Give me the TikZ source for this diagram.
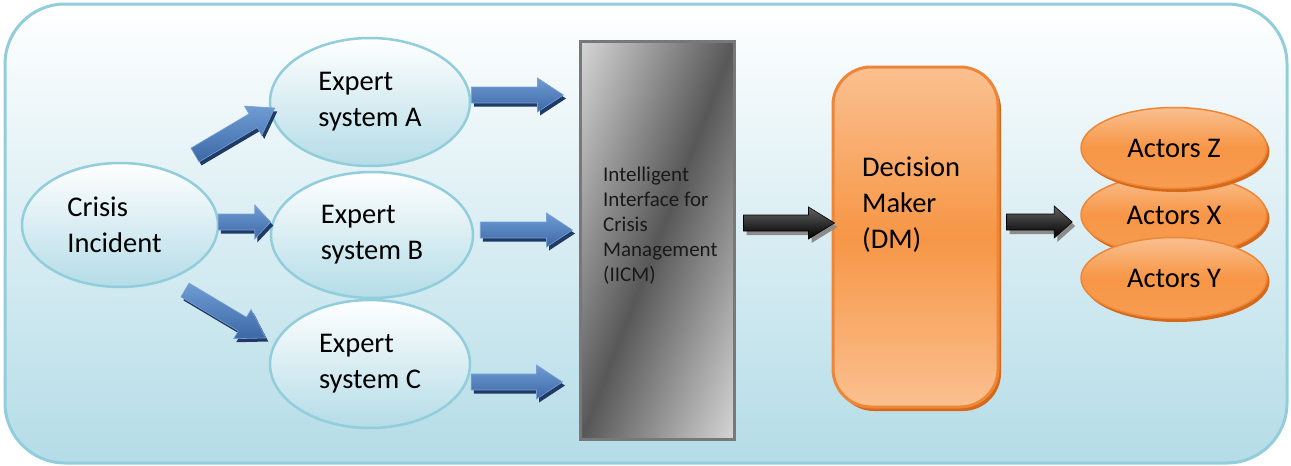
\documentclass[tikz,border=0pt]{standalone}
\usepackage{fontspec}
\setmainfont{Carlito}
\usetikzlibrary{calc,shapes.geometric,shadows}
\definecolor{frameblue}{RGB}{146,205,220}
\definecolor{bgblue}{RGB}{180,220,231}
\definecolor{ellblue}{RGB}{180,220,231}
\definecolor{arrowtop}{RGB}{112,156,212}
\definecolor{arrowbot}{RGB}{60,104,166}
\definecolor{arrowline}{RGB}{120,160,212}
\definecolor{arrowshadow}{RGB}{32,58,102}
\definecolor{orangemid}{RGB}{247,150,70}
\definecolor{orangelight}{RGB}{250,192,144}
\definecolor{orangeline}{RGB}{238,134,56}
\definecolor{orangeshadow}{RGB}{214,104,26}
\definecolor{grayline}{RGB}{120,120,120}
\definecolor{iicmlight}{RGB}{212,212,212}
\definecolor{iicmdark}{RGB}{88,88,88}
\pgfdeclareverticalshading{iicmshade}{100bp}{color(0bp)=(iicmlight); color(25bp)=(iicmlight);
  color(50bp)=(iicmdark); color(75bp)=(iicmlight); color(100bp)=(iicmlight)}
\newcommand\txtbig{\fontsize{28.5}{36}\selectfont}
\newcommand\txtsmall{\fontsize{21}{25}\selectfont}
% block arrow path: #1 style, #2 from, #3 to, #4 body half width, #5 head half width, #6 head length
\newcommand\barrowpath[6]{%
  \path[#1] let \p1=#2, \p2=#3, \n1={atan2(\y2-\y1,\x2-\x1)}, \n2={veclen(\x2-\x1,\y2-\y1)} in
    ($(\p1)+({\n1+90}:#4)$) -- ($(\p1)+(\n1:{\n2-#6})+({\n1+90}:#4)$)
    -- ($(\p1)+(\n1:{\n2-#6})+({\n1+90}:#5)$) -- (\p2)
    -- ($(\p1)+(\n1:{\n2-#6})+({\n1-90}:#5)$) -- ($(\p1)+(\n1:{\n2-#6})+({\n1-90}:#4)$)
    -- ($(\p1)+({\n1-90}:#4)$) -- cycle;}
\newcommand\bluearrow[3]{%
  \barrowpath{fill=arrowshadow, transform canvas={shift={(2.5,-3.5)}}}{#1}{#2}{8}{17}{#3}%
  \barrowpath{top color=arrowtop, bottom color=arrowbot, draw=arrowline, line width=0.6}{#1}{#2}{8}{17}{#3}}
\newcommand\blackarrow[3]{%
  \barrowpath{fill=black!45, transform canvas={shift={(3,-4)}}}{#1}{#2}{8}{16}{#3}%
  \barrowpath{top color=black!62, bottom color=black, draw=black, line width=0.6}{#1}{#2}{8}{16}{#3}}
\tikzset{
  expert/.style={ellipse, draw=frameblue, line width=2.5, top color=white, bottom color=ellblue,
    inner sep=0, align=left, font=\txtbig},
  actor/.style={ellipse, draw=orangeline, line width=1.5, top color=orangelight,
    bottom color=orangemid!85!orangelight, middle color=orangemid, inner sep=0, font=\txtbig,
    minimum width=186, minimum height=81,
    drop shadow={shadow xshift=2.5pt, shadow yshift=-3.5pt, fill=orangeshadow, opacity=1}},
}
\begin{document}
\begin{tikzpicture}[x=1pt,y=1pt]
\useasboundingbox (0,0) rectangle (1291,-466);
% background frame
\draw[frameblue, line width=3, rounded corners=60, top color=white, bottom color=bgblue]
  (5,-4) rectangle (1287,-463);
% left ellipses
\node[expert, minimum width=200, minimum height=128] (ea) at (370,-102) {Expert\\system A};
\node[expert, minimum width=202, minimum height=126] (eb) at (372,-235) {Expert\\system B};
\node[expert, minimum width=200, minimum height=128] (ec) at (370,-364) {Expert\\system C};
\node[expert, minimum width=196, minimum height=124] (crisis) at (120,-225) {Crisis\\Incident\hspace*{11pt}};
% IICM
\node[fill=iicmlight, line width=3, minimum width=151, minimum height=395, inner sep=0,
  drop shadow={shadow xshift=3pt, shadow yshift=-3pt, fill=black!30, opacity=1}]
  (iicm) at (657.5,-240.5) {};
\begin{scope}
  \clip (iicm.south west) rectangle (iicm.north east);
  \shade[shading=iicmshade, transform canvas={rotate around={69:(iicm.center)}}]
    ($(iicm.center)+(-260,-141)$) rectangle ($(iicm.center)+(260,141)$);
\end{scope}
\draw[grayline, line width=3] (iicm.south west) rectangle (iicm.north east);
\node[anchor=north west, inner sep=0, align=left, font=\txtsmall, text=black!90]
  (iicmtext) at (603,-167) {Intelligent\\Interface for\\Crisis\\Management\\(IICM)};
% Decision maker
\node[draw=orangeline, line width=3, rounded corners=38, minimum width=165, minimum height=340,
  inner sep=0, top color=orangelight, bottom color=orangelight, middle color=orangemid,
  drop shadow={shadow xshift=3pt, shadow yshift=-4pt, fill=orangeshadow, opacity=1}]
  (dm) at (915.5,-237) {};
\node[anchor=north west, inner sep=0, align=left, font=\txtbig]
  (dmtext) at (862,-157) {Decision\\Maker\\(DM)};
% actors
\node[actor] (ax) at (1174,-215) {Actors X};
\node[actor] (az) at (1174,-148) {Actors Z};
\node[actor] (ay) at (1174,-278) {Actors Y};
% blue arrows
\bluearrow{($(crisis.center)+(75,70)$)}{($(ea.west)+(6,-6)$)}{25}
\bluearrow{($(crisis.east)+(-1,3)$)}{($(eb.west)+(1,13)$)}{16}
\bluearrow{($(crisis.center)+(65,-65)$)}{($(ec.west)+(-3,26)$)}{27}
\bluearrow{($(ea.east)+(0,7)$)}{($(iicm.west|-ea.east)+(-17,7)$)}{26}
\bluearrow{($(eb.east)+(6,5)$)}{($(iicm.west|-eb.east)+(-8,5)$)}{26}
\bluearrow{($(ec.east)+(0,-18)$)}{($(iicm.west|-ec.east)+(-18,-18)$)}{26}
% black arrows
\blackarrow{($(iicm.east)+(9,17.5)$)}{($(dm.west)+(3,14)$)}{26}
\blackarrow{($(dm.east)+(7,15)$)}{($(ax.west)+(-8,-7)$)}{18}
\end{tikzpicture}
\end{document}
